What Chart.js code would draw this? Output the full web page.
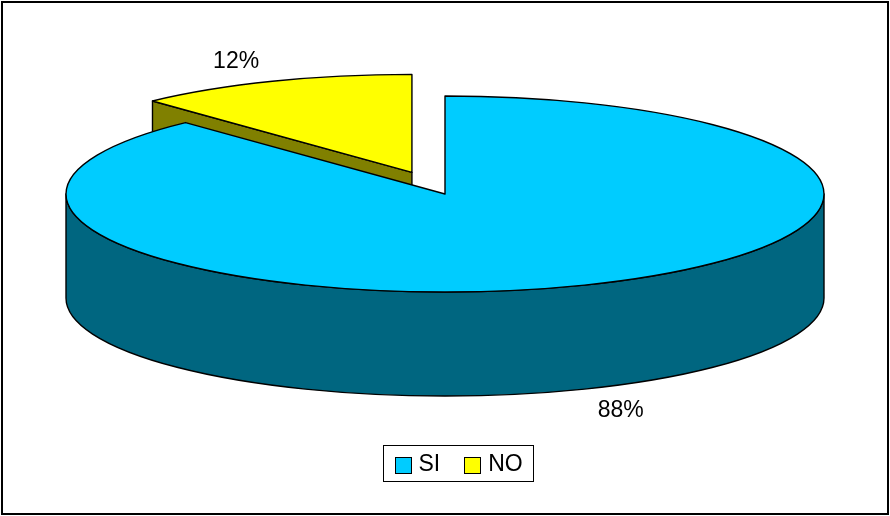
<!DOCTYPE html>
<html>
<head>
<meta charset="utf-8">
<title>SI / NO</title>
<script src="https://cdn.jsdelivr.net/npm/chart.js@4/dist/chart.umd.min.js"></script>
<style>
  html, body { margin: 0; padding: 0; background: #ffffff; }
  canvas { display: block; }
</style>
</head>
<body>
<canvas id="chart" width="890" height="516"></canvas>
<script>
// Answers and their share
const labels = ['SI', 'NO'];
const values = [88, 12];
// Top faces and extruded sides of each slice
const topColors = ['#00CCFF', '#FFFF00'];
const sideColors = ['#006680', '#808000'];
// Pull-out of each slice from the centre
const explode = [0, 41];

const FONT = '"Liberation Sans", Arial, sans-serif';

// Draws the pie as a tilted, extruded disc using the arc geometry Chart.js computed.
const pie3d = {
  id: 'pie3d',
  beforeDraw(chart, args, opts) {
    const ctx = chart.ctx;
    ctx.save();
    ctx.fillStyle = '#ffffff';
    ctx.fillRect(0, 0, chart.width, chart.height);
    ctx.strokeStyle = '#000000';
    ctx.lineWidth = 2;
    ctx.strokeRect(2, 2, chart.width - 4, chart.height - 4);
    ctx.restore();
  },
  beforeDatasetsDraw(chart, args, opts) {
    const ctx = chart.ctx;
    const meta = chart.getDatasetMeta(0);
    const ds = chart.data.datasets[0];
    const total = ds.data.reduce((a, b) => a + b, 0);
    const depth = opts.depth;

    const slices = meta.data.map((arc, i) => {
      const p = arc.getProps(['x', 'y', 'startAngle', 'endAngle', 'outerRadius'], true);
      const sx = opts.rx / p.outerRadius;
      const sy = opts.ry / p.outerRadius;
      const mid = (p.startAngle + p.endAngle) / 2;
      const off = arc.options.offset || 0;
      return {
        i, mid,
        a0: p.startAngle, a1: p.endAngle,
        cx: p.x + Math.cos(mid) * off * sx,
        cy: p.y + Math.sin(mid) * off * sy,
        rx: opts.rx, ry: opts.ry
      };
    });

    ctx.save();
    ctx.lineWidth = 1.4;
    ctx.lineJoin = 'round';
    ctx.strokeStyle = '#000000';

    const pt = (s, a, z) => [s.cx + Math.cos(a) * s.rx, s.cy + Math.sin(a) * s.ry + z];

    const radialFace = (s, a) => {
      const [x, y] = pt(s, a, 0);
      ctx.beginPath();
      ctx.moveTo(s.cx, s.cy);
      ctx.lineTo(x, y);
      ctx.lineTo(x, y + depth);
      ctx.lineTo(s.cx, s.cy + depth);
      ctx.closePath();
      ctx.fillStyle = sideColors[s.i];
      ctx.fill();
      ctx.stroke();
    };

    // back slices first
    const order = slices.slice().sort((a, b) => Math.sin(a.mid) - Math.sin(b.mid));
    order.forEach(s => {
      // cut faces that turn toward the viewer
      if (Math.cos(s.a0) < -1e-6) radialFace(s, s.a0);
      if (Math.cos(s.a1) > 1e-6) radialFace(s, s.a1);

      // front part of the outer wall
      for (let k = -1; k <= 2; k++) {
        const lo = Math.max(s.a0, 2 * Math.PI * k);
        const hi = Math.min(s.a1, 2 * Math.PI * k + Math.PI);
        if (hi - lo > 1e-6) {
          ctx.beginPath();
          ctx.ellipse(s.cx, s.cy, s.rx, s.ry, 0, lo, hi, false);
          ctx.ellipse(s.cx, s.cy + depth, s.rx, s.ry, 0, hi, lo, true);
          ctx.closePath();
          ctx.fillStyle = sideColors[s.i];
          ctx.fill();
          ctx.stroke();
        }
      }

      // top face
      ctx.beginPath();
      ctx.moveTo(s.cx, s.cy);
      ctx.ellipse(s.cx, s.cy, s.rx, s.ry, 0, s.a0, s.a1, false);
      ctx.closePath();
      ctx.fillStyle = topColors[s.i];
      ctx.fill();
      ctx.stroke();
    });

    // percentage labels outside each slice
    ctx.fillStyle = '#000000';
    ctx.font = '23px ' + FONT;
    ctx.textAlign = 'center';
    ctx.textBaseline = 'middle';
    slices.forEach(s => {
      const front = Math.sin(s.mid) > 0 ? depth : 0;
      const x = s.cx + Math.cos(s.mid) * s.rx * opts.labelRadiusX;
      const y = s.cy + Math.sin(s.mid) * s.ry * opts.labelRadiusY + front + 1;
      const pct = Math.round(ds.data[s.i] / total * 100) + '%';
      ctx.fillText(pct, x, y);
    });
    ctx.restore();
    return false;
  },
  afterDraw(chart, args, opts) {
    // boxed legend under the pie
    const ctx = chart.ctx;
    const names = chart.data.labels;
    ctx.save();
    ctx.font = '23px ' + FONT;
    ctx.textBaseline = 'middle';
    const box = 16, gapText = 8, gapItem = 24, padX = 11;
    const widths = names.map(n => ctx.measureText(n).width);
    let w = padX * 2;
    names.forEach((n, i) => { w += box + gapText + widths[i] + (i < names.length - 1 ? gapItem : 0); });
    w = Math.round(w);
    const h = 36;
    const left = Math.round(opts.legendX - w / 2) + 0.5;
    const top = Math.round(opts.legendY - h / 2) + 0.5;
    ctx.fillStyle = '#ffffff';
    ctx.fillRect(left, top, w, h);
    ctx.strokeStyle = '#000000';
    ctx.lineWidth = 1;
    ctx.strokeRect(left, top, w, h);
    let x = left + padX;
    const cy = top + h / 2;
    names.forEach((n, i) => {
      const bx = Math.round(x) + 0.5;
      const by = Math.round(cy - box / 2 + 1) + 0.5;
      ctx.fillStyle = topColors[i];
      ctx.fillRect(bx, by, box, box);
      ctx.strokeStyle = '#000000';
      ctx.strokeRect(bx, by, box, box);
      x += box + gapText;
      ctx.fillStyle = '#000000';
      ctx.fillText(n, x, cy + 1);
      x += widths[i] + gapItem;
    });
    ctx.restore();
  }
};

new Chart(document.getElementById('chart'), {
  type: 'pie',
  data: {
    labels: labels,
    datasets: [{
      data: values,
      backgroundColor: topColors,
      borderColor: '#000000',
      borderWidth: 1,
      offset: explode,
      hoverOffset: 0
    }]
  },
  options: {
    responsive: false,
    animation: false,
    devicePixelRatio: 1,
    events: [],
    layout: { padding: { top: 0, bottom: 128, left: 0, right: 0 } },
    plugins: {
      legend: { display: false },
      tooltip: { enabled: false },
      pie3d: { rx: 379, ry: 98, depth: 104, labelRadiusX: 1.26, labelRadiusY: 1.23, legendX: 458, legendY: 463 }
    }
  },
  plugins: [pie3d]
});
</script>
</body>
</html>
